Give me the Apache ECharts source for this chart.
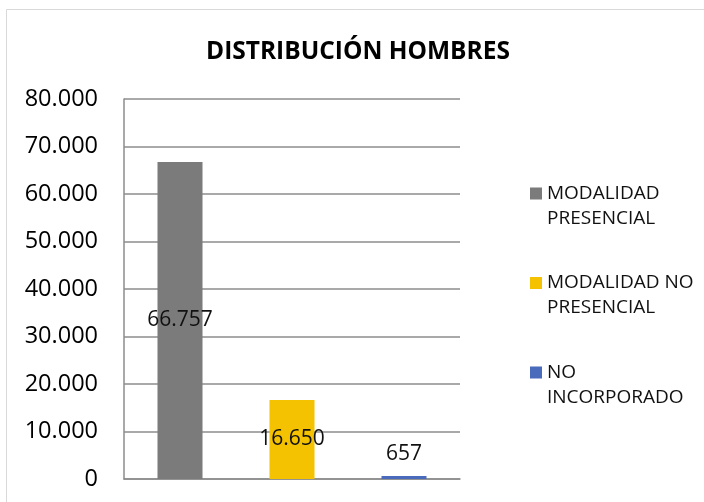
<!DOCTYPE html>
<html>
<head>
<meta charset="utf-8">
<script src="https://cdn.jsdelivr.net/npm/echarts@6/dist/echarts.min.js"></script>
<style>
  html, body { margin: 0; padding: 0; background: #fff; }
  #chart { width: 704px; height: 502px; }
</style>
</head>
<body>
<div id="chart"></div>
<script>
// data
let categories = ["MODALIDAD PRESENCIAL", "MODALIDAD NO PRESENCIAL", "NO INCORPORADO"];
let legendLabels = ["MODALIDAD\nPRESENCIAL", "MODALIDAD NO\nPRESENCIAL", "NO\nINCORPORADO"];
let values = [66757, 16650, 657];
let colors = ["#7b7b7b", "#f4c200", "#4a6abb"];
let labelPos = ["inside", "inside", "top"];

function withDots(v) {
  // 66757 -> 66.757
  return String(Math.round(v)).replace(/\B(?=(\d{3})+(?!\d))/g, ".");
}

let chart = echarts.init(document.getElementById("chart"));
let fontName = "'Open Sans', sans-serif";

let option = {
  backgroundColor: "#fff",
  animation: false,
  title: {
    text: "DISTRIBUCIÓN HOMBRES",
    left: 201,
    top: 35,
    textStyle: { fontFamily: fontName, fontSize: 24.5, fontWeight: "bold", color: "#000" }
  },
  graphic: [{
    type: "rect",
    shape: { x: 6.5, y: 9.5, width: 720, height: 520 },
    style: { fill: "none", stroke: "#d9d9d9", lineWidth: 1 },
    silent: true
  }],
  grid: { left: 124, right: 244, top: 99, bottom: 23 },
  legend: {
    orient: "vertical",
    left: 525,
    top: 176,
    itemWidth: 12,
    itemHeight: 37,
    itemGap: 39.5,
    // square sits at the top of the item, level with the first text line
    icon: "path://M0,0h12v12h-12z M0,37h12v0.01h-12z",
    data: categories,
    formatter: function (name) {
      return legendLabels[categories.indexOf(name)];
    },
    textStyle: {
      fontFamily: fontName,
      fontSize: 19,
      color: "#111",
      lineHeight: 25
    }
  },
  xAxis: {
    type: "category",
    data: categories,
    axisLine: { show: true, lineStyle: { color: "#8c8c8c", width: 1.5 } },
    axisTick: { show: false },
    axisLabel: { show: false }
  },
  yAxis: {
    type: "value",
    min: 0,
    max: 80000,
    interval: 10000,
    axisLine: { show: true, lineStyle: { color: "#8c8c8c", width: 1.5 } },
    axisTick: { show: false },
    splitLine: { lineStyle: { color: "#8c8c8c", width: 1.5 } },
    axisLabel: {
      margin: 26,
      fontFamily: fontName,
      fontSize: 23.5,
      color: "#000",
      formatter: withDots
    }
  },
  series: categories.map(function (name, idx) {
    let data = categories.map(function (c, j) { return j === idx ? values[idx] : "-"; });
    return {
      name: name,
      type: "bar",
      barWidth: 45,
      barGap: "-100%",
      itemStyle: { color: colors[idx] },
      label: {
        show: true,
        position: labelPos[idx],
        distance: 11,
        fontFamily: fontName,
        fontSize: 21,
        color: "#111",
        formatter: function (p) { return withDots(p.value); }
      },
      data: data
    };
  })
};

chart.setOption(option);
</script>
</body>
</html>
